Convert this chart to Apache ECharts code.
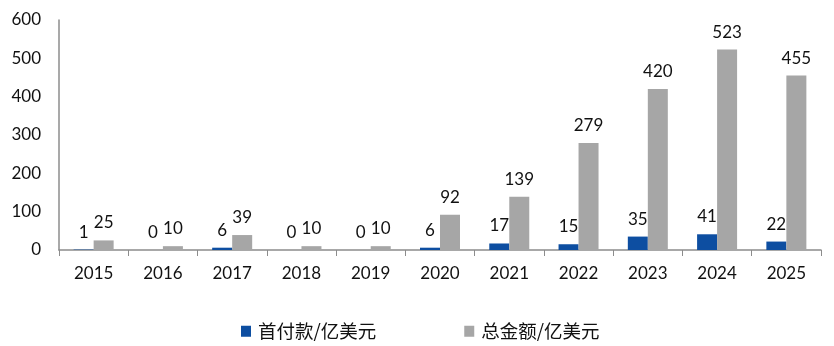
<!DOCTYPE html>
<html>
<head>
<meta charset="utf-8">
<script src="https://cdn.jsdelivr.net/npm/echarts@6/dist/echarts.min.js"></script>
<style>
html,body{margin:0;padding:0;background:#fff;}
#main{width:834px;height:346px;}
</style>
</head>
<body>
<div id="main"></div>
<script>
const categories = ['2015','2016','2017','2018','2019','2020','2021','2022','2023','2024','2025'];
const upfront = [1, 0, 6, 0, 0, 6, 17, 15, 35, 41, 22];
const total = [25, 10, 39, 10, 10, 92, 139, 279, 420, 523, 455];
const seriesNames = ['首付款/亿美元', '总金额/亿美元'];

const chart = echarts.init(document.getElementById('main'));
const font = 'Lato, "Noto Sans CJK SC", sans-serif';
const labelStyle = {show: true, position: 'top', distance: 9, color: '#111', fontSize: 17, fontFamily: font};
chart.setOption({
  animation: false,
  backgroundColor: '#fff',
  grid: {left: 59, right: 13, top: 20, bottom: 96},
  legend: {
    left: 236, top: 317,
    itemWidth: 10, itemHeight: 11, itemGap: 88,
    icon: 'rect',
    textStyle: {fontSize: 18.5, color: '#111', fontFamily: '"Noto Sans CJK SC", sans-serif', padding: [0,0,0,2]},
    data: seriesNames
  },
  xAxis: {
    type: 'category',
    data: categories,
    axisLine: {lineStyle: {color: '#8c8c8c', width: 1.5}},
    axisTick: {show: true, length: 6, lineStyle: {color: '#8c8c8c'}},
    axisLabel: {color: '#111', fontSize: 17, fontFamily: font, margin: 15}
  },
  yAxis: {
    type: 'value',
    min: 0, max: 600, interval: 100,
    axisLine: {show: true, lineStyle: {color: '#8c8c8c', width: 1.5}},
    axisTick: {show: false},
    splitLine: {show: false},
    axisLabel: {color: '#111', fontSize: 17, fontFamily: font, margin: 18}
  },
  series: [
    {name: seriesNames[0], type: 'bar', data: upfront, barWidth: 20, barGap: '0%',
     itemStyle: {color: '#0d4ea1'}, label: labelStyle},
    {name: seriesNames[1], type: 'bar', data: total, barWidth: 20,
     itemStyle: {color: '#a6a6a6'}, label: labelStyle}
  ]
});
</script>
</body>
</html>
